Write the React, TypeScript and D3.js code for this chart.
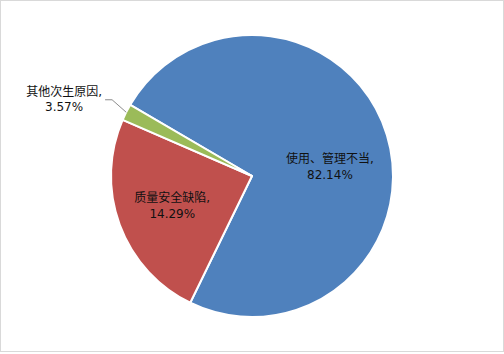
import React from "react";
import * as d3 from "d3";

// Categories and values
const categories = ["使用、管理不当", "质量安全缺陷", "其他次生原因"];
// slice sizes as drawn (share of the circle, %)
const sliceShares = [73.8, 24.3, 1.9];
// percentages printed in the labels
const labelPercents = ["82.14%", "14.29%", "3.57%"];
const colors = ["#4F81BD", "#C0504D", "#9BBB59"];

const W = 504;
const H = 354;
const CX = 252;
const CY = 176;
const R = 141;
const START_DEG = -59.7;

const FONT = "'DejaVu Sans', 'Noto Sans CJK SC', sans-serif";

export default function App() {
  const toRad = (d: number) => (d * Math.PI) / 180;
  const pie = d3
    .pie<number>()
    .sort(null)
    .value((d) => d)
    .startAngle(toRad(START_DEG))
    .endAngle(toRad(START_DEG + 360));
  const arcs = pie(sliceShares);
  const arcGen = d3.arc<d3.PieArcDatum<number>>().innerRadius(0).outerRadius(R);
  const labelArc = d3
    .arc<d3.PieArcDatum<number>>()
    .innerRadius(R * 0.55)
    .outerRadius(R * 0.55);

  const nudges: [number, number][] = [
    [3.7, 9.9],
    [-7, -0.7],
  ];

  const polar = (angle: number, r: number): [number, number] => [
    Math.sin(angle) * r,
    -Math.cos(angle) * r,
  ];

  return (
    <svg
      width={W}
      height={H}
      style={{ position: "absolute", left: 0, top: 0, background: "#fff" }}
    >
      <rect x={0.5} y={0.5} width={503} height={351} fill="#fff" stroke="#d9d9d9" strokeWidth={1} />
      <g transform={`translate(${CX},${CY})`}>
        {arcs.map((a, i) => (
          <path key={i} d={arcGen(a) || ""} fill={colors[i]} stroke="#fff" strokeWidth={2} strokeLinejoin="round" />
        ))}
        {arcs.map((a, i) => {
          const mid = (a.startAngle + a.endAngle) / 2;
          if (i < 2) {
            const [lx, ly] = labelArc.centroid(a);
            const x = lx + nudges[i][0];
            const y = ly + nudges[i][1];
            return (
              <text key={"l" + i} x={x} y={y} textAnchor="middle" fontFamily={FONT} fontSize={12} fill="#111">
                <tspan x={x}>{categories[i]},</tspan>
                <tspan x={x} dy={15.5}>
                  {labelPercents[i]}
                </tspan>
              </text>
            );
          }
          const p0 = polar(mid, R);
          const p1 = polar(mid + toRad(1.7), R * 1.13);
          const p2: [number, number] = [p1[0] - 7, p1[1]];
          const tx = p2[0] - 41;
          const ty = p2[1] - 4;
          return (
            <g key={"l" + i}>
              <polyline
                points={`${p0[0]},${p0[1]} ${p1[0]},${p1[1]} ${p2[0]},${p2[1]}`}
                fill="none"
                stroke="#8c8c8c"
                strokeWidth={1}
              />
              <text x={tx} y={ty} textAnchor="middle" fontFamily={FONT} fontSize={12} fill="#111">
                <tspan x={tx}>{categories[i]},</tspan>
                <tspan x={tx} dy={15.5}>
                  {labelPercents[i]}
                </tspan>
              </text>
            </g>
          );
        })}
      </g>
    </svg>
  );
}
